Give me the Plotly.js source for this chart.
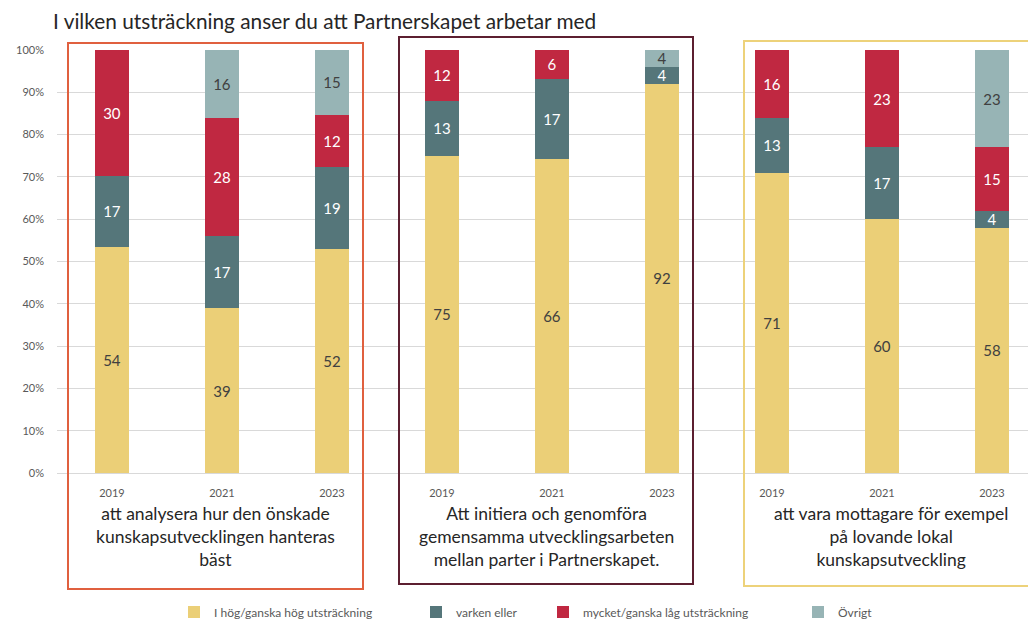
<!DOCTYPE html>
<html><head><meta charset="utf-8">
<script src="https://cdn.plot.ly/plotly-3.0.1.min.js"></script>
<style>html,body{margin:0;padding:0;background:#fff}#chart{width:1028px;height:619px}</style>
</head><body><div id="chart"></div>
<script>
const years = ['2019','2021','2023','2019','2021','2023','2019','2021','2023'];
const groupLabels = [
  'att analysera hur den önskade<br>kunskapsutvecklingen hanteras<br>bäst',
  'Att initiera och genomföra<br>gemensamma utvecklingsarbeten<br>mellan parter i Partnerskapet.',
  'att vara mottagare för exempel<br>på lovande lokal<br>kunskapsutveckling'
];
const seriesNames = ['I hög/ganska hög utsträckning','varken eller','mycket/ganska låg utsträckning','Övrigt'];
const hog     = [54, 39, 52, 75, 66, 92, 71, 60, 58];
const varken  = [17, 17, 19, 13, 17, 4, 13, 17, 4];
const lag     = [30, 28, 12, 12, 6, null, 16, 23, 15];
const ovrigt  = [null, 16, 15, null, null, 4, null, null, 23];

const colors = ['#EBCF77','#55767A','#C02841','#97B4B5'];
const textColors = ['#404040','#ffffff','#ffffff','#404040'];
const allSeries = [hog, varken, lag, ovrigt];
const legendIds = ['legend','legend2','legend3','legend4'];
const FONT = 'Lato, "Open Sans", sans-serif';

const xIdx = years.map((_, i) => i);
const traces = allSeries.map((vals, k) => ({
  type: 'bar',
  name: seriesNames[k],
  x: xIdx,
  y: vals,
  text: vals.map(v => v == null ? '' : String(v)),
  textposition: 'inside',
  insidetextanchor: 'middle',
  textangle: 0,
  textfont: {family: FONT, size: 15, color: textColors[k]},
  marker: {color: colors[k], line: {width: 0}},
  hoverinfo: 'skip',
  legend: legendIds[k]
}));

// pixel helpers for decorations (plot area: left 57, top 50, bottom 473; 110px per category)
const PX0 = 57, CAT = 110, TOP = 50, BOT = 473;
const cx = px => (px - PX0) / CAT - 0.5;
const py = px => (BOT - px) / (BOT - TOP);
const plotW = 1028 - PX0;
const lx = px => (px - PX0) / plotW;

const boxes = [
  {x0: 68, x1: 363, y0: 43, y1: 589, color: '#E0603F'},
  {x0: 399, x1: 693, y0: 37, y1: 584, color: '#5C1F30'},
  {x0: 744, x1: 1060, y0: 41, y1: 586, color: '#EDD27A'}
];
const shapes = boxes.map(b => ({
  type: 'rect', xref: 'x', yref: 'paper',
  x0: cx(b.x0), x1: cx(b.x1), y0: py(b.y1), y1: py(b.y0),
  line: {color: b.color, width: 2}, fillcolor: 'rgba(0,0,0,0)', layer: 'above'
}));
const labelCenters = [215.5, 546, 891];
const annotations = groupLabels.map((t, i) => ({
  text: t, xref: 'x', yref: 'paper', x: cx(labelCenters[i]), y: py(501),
  xanchor: 'center', yanchor: 'top', showarrow: false, align: 'center',
  font: {family: FONT, size: 17.5, color: '#262626'}
}));

const legendX = [174, 416, 543, 798];
const legendBase = (i) => ({
  orientation: 'h', x: lx(legendX[i]), xanchor: 'left', y: py(612), yanchor: 'middle',
  font: {family: FONT, size: 12, color: '#595959'}, bgcolor: 'rgba(0,0,0,0)', borderwidth: 0
});

const layout = {
  width: 1028, height: 619,
  margin: {l: PX0, r: 0, t: TOP, b: 619 - BOT, pad: 0, autoexpand: false},
  paper_bgcolor: '#ffffff', plot_bgcolor: '#ffffff',
  title: {text: 'I vilken utsträckning anser du att Partnerskapet arbetar med',
    x: 53/1028, xanchor: 'left', xref: 'container', y: 1 - 22/619, yanchor: 'middle', yref: 'container',
    font: {family: FONT, size: 20.8, color: '#262626'}},
  barmode: 'stack', barnorm: 'percent', bargap: 0.69,
  uniformtext: {minsize: 15, mode: 'show'},
  xaxis: {range: [-0.5, cx(1028)], tickvals: xIdx, ticktext: years, showgrid: false, zeroline: false,
    ticks: '', ticklabelstandoff: 12, tickfont: {family: FONT, size: 11, color: '#595959'}, fixedrange: true},
  yaxis: {range: [0, 100], dtick: 10, ticksuffix: '%', showgrid: true, gridcolor: '#D9D9D9', gridwidth: 1,
    zeroline: true, zerolinecolor: '#D9D9D9', zerolinewidth: 1, ticks: '', ticklabelstandoff: 12,
    tickfont: {family: FONT, size: 11, color: '#595959'}, fixedrange: true},
  showlegend: true,
  legend: legendBase(0), legend2: legendBase(1), legend3: legendBase(2), legend4: legendBase(3),
  shapes: shapes, annotations: annotations
};
Plotly.newPlot('chart', traces, layout, {displayModeBar: false, staticPlot: true});
</script></body></html>
